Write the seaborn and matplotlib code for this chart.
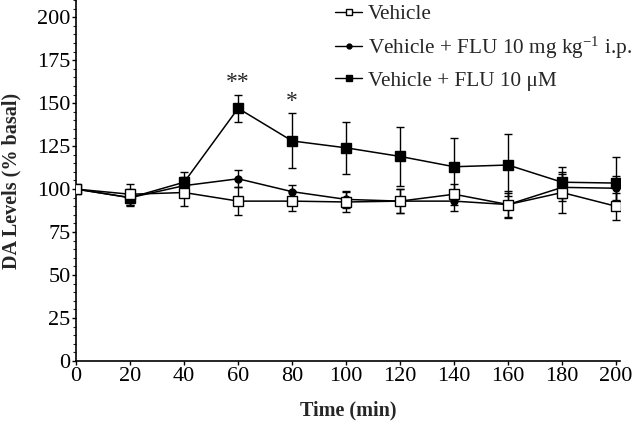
import matplotlib
matplotlib.use("Agg")
import matplotlib.pyplot as plt
import seaborn as sns
import pandas as pd
import numpy as np
from matplotlib.ticker import MultipleLocator
from matplotlib.lines import Line2D

time = [0, 20, 40, 60, 80, 100, 120, 140, 160, 180, 200]
vehicle = [100, 97, 98, 93, 93, 92.5, 93, 97, 91, 98, 90]
vehicle_err = [0, 6, 8, 8, 6, 6, 7, 6, 8, 12, 8]
flu_ip = [100, 95, 102, 106, 98.5, 94, 93, 93, 91, 101, 100.5]
flu_ip_err = [0, 4, 5, 5, 4, 5, 7, 6, 7, 8, 7]
flu_um = [100, 95, 104, 147, 128, 124, 119, 113, 114, 104, 103.5]
flu_um_err = [0, 5, 6, 8, 16, 15, 17, 17, 18, 9, 15]
labels = ["Vehicle", "Vehicle + FLU 10 mg kg$^{-1}$ i.p.", "Vehicle + FLU 10 \u03bcM"]
stars = {60: "**", 80: "*"}

sns.set_theme(style="ticks")
plt.rcParams['font.family'] = ['Liberation Serif', 'DejaVu Serif']
plt.rcParams['mathtext.fontset'] = 'custom'
plt.rcParams['mathtext.rm'] = 'Liberation Serif'
plt.rcParams['mathtext.default'] = 'regular'

rows = []
for lab, vals in zip(labels, [vehicle, flu_ip, flu_um]):
    for t, v in zip(time, vals):
        rows.append({"Time": t, "DA": v, "Group": lab})
df = pd.DataFrame(rows)

fig = plt.figure(figsize=(6.4, 4.23), dpi=100)
ax = fig.add_axes([0.119, 0.1466, 0.85, 0.8534])

markers = {labels[0]: "s", labels[1]: "o", labels[2]: "s"}
facec = {labels[0]: "white", labels[1]: "black", labels[2]: "black"}
msize = {labels[0]: 6.5, labels[1]: 5, labels[2]: 6.5}
errs = {labels[0]: vehicle_err, labels[1]: flu_ip_err, labels[2]: flu_um_err}
vals_map = {labels[0]: vehicle, labels[1]: flu_ip, labels[2]: flu_um}

for lab in [labels[2], labels[1], labels[0]]:
    ax.errorbar(time, vals_map[lab], yerr=errs[lab], fmt='none', ecolor='black',
                elinewidth=1.0, capsize=3, capthick=1.0, zorder=2)
for lab in [labels[2], labels[1], labels[0]]:
    sub = df[df["Group"] == lab]
    sns.lineplot(data=sub, x="Time", y="DA", ax=ax, color="black", linewidth=1.1,
                 marker=markers[lab], markersize=msize[lab], markerfacecolor=facec[lab],
                 markeredgecolor="black", markeredgewidth=1.0, zorder=3, legend=False)

handles = []
for lab in labels:
    handles.append(Line2D([], [], color="black", linewidth=1.0, marker=markers[lab],
                          markersize=msize[lab] - 1.5, markerfacecolor=facec[lab],
                          markeredgecolor="black"))

for t, s in stars.items():
    i = time.index(t)
    ax.text(t, flu_um[i] + flu_um_err[i] + 1, s, ha="center", va="bottom", fontsize=17)

ax.set_xlim(0, 201.5)
ax.set_ylim(0, 210)
ax.set_xticks(time)
ax.set_yticks(np.arange(0, 201, 25))
ax.yaxis.set_minor_locator(MultipleLocator(5))
ax.tick_params(axis='both', labelsize=16, length=3, width=1.0, pad=1, colors='black')
ax.tick_params(axis='y', which='minor', length=2, width=0.8)
ax.set_xlabel("Time (min)", fontsize=14.5, fontweight="bold")
ax.set_ylabel("DA Levels (% basal)", fontsize=14.5, fontweight="bold")
ax.xaxis.set_label_coords(0.5, -0.11)
ax.yaxis.set_label_coords(-0.1, 0.5)
for sp in ["top", "right"]:
    ax.spines[sp].set_visible(False)
for sp in ["left", "bottom"]:
    ax.spines[sp].set_linewidth(1.2)
    ax.spines[sp].set_color("black")

leg = ax.legend(handles, labels, loc="upper left", bbox_to_anchor=(0.523, 0.99),
                bbox_transform=fig.transFigure, frameon=False, fontsize=15.3,
                handlelength=1.3, handletextpad=0.25, labelspacing=0.48,
                borderpad=0, borderaxespad=0)

fig.savefig("out.png", dpi=100)
